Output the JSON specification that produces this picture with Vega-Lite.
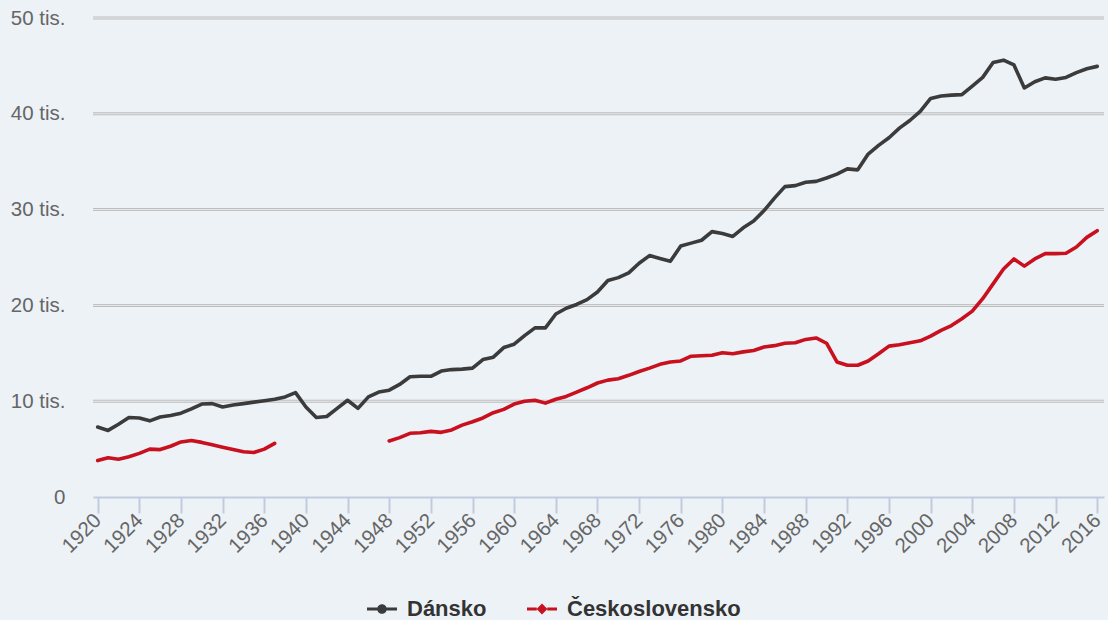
{
  "$schema": "https://vega.github.io/schema/vega-lite/v6.json",
  "width": 1011,
  "height": 479,
  "autosize": {"type": "none"},
  "padding": {"left": 93, "top": 18, "right": 4, "bottom": 123},
  "background": "#edf2f7",
  "config": {
    "view": {"stroke": null},
    "font": "Liberation Sans"
  },
  "datasets": {
    "mrizka": [{"g": 10000}, {"g": 20000}, {"g": 30000}, {"g": 40000}, {"g": 50000}],
    "hdp": [
      {"rok":1920,"zeme":"Dánsko","hodnota":7300},{"rok":1921,"zeme":"Dánsko","hodnota":6950},{"rok":1922,"zeme":"Dánsko","hodnota":7600},{"rok":1923,"zeme":"Dánsko","hodnota":8300},{"rok":1924,"zeme":"Dánsko","hodnota":8250},{"rok":1925,"zeme":"Dánsko","hodnota":7950},{"rok":1926,"zeme":"Dánsko","hodnota":8350},{"rok":1927,"zeme":"Dánsko","hodnota":8500},{"rok":1928,"zeme":"Dánsko","hodnota":8750},{"rok":1929,"zeme":"Dánsko","hodnota":9200},
      {"rok":1930,"zeme":"Dánsko","hodnota":9700},{"rok":1931,"zeme":"Dánsko","hodnota":9750},{"rok":1932,"zeme":"Dánsko","hodnota":9400},{"rok":1933,"zeme":"Dánsko","hodnota":9600},{"rok":1934,"zeme":"Dánsko","hodnota":9750},{"rok":1935,"zeme":"Dánsko","hodnota":9900},{"rok":1936,"zeme":"Dánsko","hodnota":10050},{"rok":1937,"zeme":"Dánsko","hodnota":10200},{"rok":1938,"zeme":"Dánsko","hodnota":10450},{"rok":1939,"zeme":"Dánsko","hodnota":10900},
      {"rok":1940,"zeme":"Dánsko","hodnota":9400},{"rok":1941,"zeme":"Dánsko","hodnota":8300},{"rok":1942,"zeme":"Dánsko","hodnota":8400},{"rok":1943,"zeme":"Dánsko","hodnota":9250},{"rok":1944,"zeme":"Dánsko","hodnota":10100},{"rok":1945,"zeme":"Dánsko","hodnota":9250},{"rok":1946,"zeme":"Dánsko","hodnota":10450},{"rok":1947,"zeme":"Dánsko","hodnota":10950},{"rok":1948,"zeme":"Dánsko","hodnota":11150},{"rok":1949,"zeme":"Dánsko","hodnota":11750},
      {"rok":1950,"zeme":"Dánsko","hodnota":12550},{"rok":1951,"zeme":"Dánsko","hodnota":12600},{"rok":1952,"zeme":"Dánsko","hodnota":12600},{"rok":1953,"zeme":"Dánsko","hodnota":13150},{"rok":1954,"zeme":"Dánsko","hodnota":13300},{"rok":1955,"zeme":"Dánsko","hodnota":13350},{"rok":1956,"zeme":"Dánsko","hodnota":13450},{"rok":1957,"zeme":"Dánsko","hodnota":14350},{"rok":1958,"zeme":"Dánsko","hodnota":14600},{"rok":1959,"zeme":"Dánsko","hodnota":15600},
      {"rok":1960,"zeme":"Dánsko","hodnota":15950},{"rok":1961,"zeme":"Dánsko","hodnota":16850},{"rok":1962,"zeme":"Dánsko","hodnota":17650},{"rok":1963,"zeme":"Dánsko","hodnota":17650},{"rok":1964,"zeme":"Dánsko","hodnota":19100},{"rok":1965,"zeme":"Dánsko","hodnota":19700},{"rok":1966,"zeme":"Dánsko","hodnota":20100},{"rok":1967,"zeme":"Dánsko","hodnota":20600},{"rok":1968,"zeme":"Dánsko","hodnota":21400},{"rok":1969,"zeme":"Dánsko","hodnota":22600},
      {"rok":1970,"zeme":"Dánsko","hodnota":22900},{"rok":1971,"zeme":"Dánsko","hodnota":23400},{"rok":1972,"zeme":"Dánsko","hodnota":24400},{"rok":1973,"zeme":"Dánsko","hodnota":25200},{"rok":1974,"zeme":"Dánsko","hodnota":24900},{"rok":1975,"zeme":"Dánsko","hodnota":24600},{"rok":1976,"zeme":"Dánsko","hodnota":26200},{"rok":1977,"zeme":"Dánsko","hodnota":26500},{"rok":1978,"zeme":"Dánsko","hodnota":26800},{"rok":1979,"zeme":"Dánsko","hodnota":27700},
      {"rok":1980,"zeme":"Dánsko","hodnota":27500},{"rok":1981,"zeme":"Dánsko","hodnota":27200},{"rok":1982,"zeme":"Dánsko","hodnota":28100},{"rok":1983,"zeme":"Dánsko","hodnota":28800},{"rok":1984,"zeme":"Dánsko","hodnota":29900},{"rok":1985,"zeme":"Dánsko","hodnota":31200},{"rok":1986,"zeme":"Dánsko","hodnota":32400},{"rok":1987,"zeme":"Dánsko","hodnota":32500},{"rok":1988,"zeme":"Dánsko","hodnota":32850},{"rok":1989,"zeme":"Dánsko","hodnota":32950},
      {"rok":1990,"zeme":"Dánsko","hodnota":33300},{"rok":1991,"zeme":"Dánsko","hodnota":33700},{"rok":1992,"zeme":"Dánsko","hodnota":34250},{"rok":1993,"zeme":"Dánsko","hodnota":34150},{"rok":1994,"zeme":"Dánsko","hodnota":35800},{"rok":1995,"zeme":"Dánsko","hodnota":36700},{"rok":1996,"zeme":"Dánsko","hodnota":37500},{"rok":1997,"zeme":"Dánsko","hodnota":38500},{"rok":1998,"zeme":"Dánsko","hodnota":39300},{"rok":1999,"zeme":"Dánsko","hodnota":40250},
      {"rok":2000,"zeme":"Dánsko","hodnota":41600},{"rok":2001,"zeme":"Dánsko","hodnota":41850},{"rok":2002,"zeme":"Dánsko","hodnota":41950},{"rok":2003,"zeme":"Dánsko","hodnota":42000},{"rok":2004,"zeme":"Dánsko","hodnota":42900},{"rok":2005,"zeme":"Dánsko","hodnota":43800},{"rok":2006,"zeme":"Dánsko","hodnota":45350},{"rok":2007,"zeme":"Dánsko","hodnota":45600},{"rok":2008,"zeme":"Dánsko","hodnota":45100},{"rok":2009,"zeme":"Dánsko","hodnota":42700},
      {"rok":2010,"zeme":"Dánsko","hodnota":43350},{"rok":2011,"zeme":"Dánsko","hodnota":43750},{"rok":2012,"zeme":"Dánsko","hodnota":43600},{"rok":2013,"zeme":"Dánsko","hodnota":43800},{"rok":2014,"zeme":"Dánsko","hodnota":44300},{"rok":2015,"zeme":"Dánsko","hodnota":44700},{"rok":2016,"zeme":"Dánsko","hodnota":44950},
      {"rok":1920,"zeme":"Československo","hodnota":3800},{"rok":1921,"zeme":"Československo","hodnota":4100},{"rok":1922,"zeme":"Československo","hodnota":3950},{"rok":1923,"zeme":"Československo","hodnota":4200},{"rok":1924,"zeme":"Československo","hodnota":4550},{"rok":1925,"zeme":"Československo","hodnota":5000},{"rok":1926,"zeme":"Československo","hodnota":4950},{"rok":1927,"zeme":"Československo","hodnota":5300},{"rok":1928,"zeme":"Československo","hodnota":5750},{"rok":1929,"zeme":"Československo","hodnota":5900},
      {"rok":1930,"zeme":"Československo","hodnota":5700},{"rok":1931,"zeme":"Československo","hodnota":5450},{"rok":1932,"zeme":"Československo","hodnota":5200},{"rok":1933,"zeme":"Československo","hodnota":4950},{"rok":1934,"zeme":"Československo","hodnota":4720},{"rok":1935,"zeme":"Československo","hodnota":4650},{"rok":1936,"zeme":"Československo","hodnota":5000},{"rok":1937,"zeme":"Československo","hodnota":5600},
      {"rok":1938,"zeme":"Československo","hodnota":null},{"rok":1939,"zeme":"Československo","hodnota":null},{"rok":1940,"zeme":"Československo","hodnota":null},{"rok":1941,"zeme":"Československo","hodnota":null},{"rok":1942,"zeme":"Československo","hodnota":null},{"rok":1943,"zeme":"Československo","hodnota":null},{"rok":1944,"zeme":"Československo","hodnota":null},{"rok":1945,"zeme":"Československo","hodnota":null},{"rok":1946,"zeme":"Československo","hodnota":null},{"rok":1947,"zeme":"Československo","hodnota":null},
      {"rok":1948,"zeme":"Československo","hodnota":5850},{"rok":1949,"zeme":"Československo","hodnota":6200},
      {"rok":1950,"zeme":"Československo","hodnota":6650},{"rok":1951,"zeme":"Československo","hodnota":6700},{"rok":1952,"zeme":"Československo","hodnota":6850},{"rok":1953,"zeme":"Československo","hodnota":6750},{"rok":1954,"zeme":"Československo","hodnota":7000},{"rok":1955,"zeme":"Československo","hodnota":7500},{"rok":1956,"zeme":"Československo","hodnota":7850},{"rok":1957,"zeme":"Československo","hodnota":8250},{"rok":1958,"zeme":"Československo","hodnota":8800},{"rok":1959,"zeme":"Československo","hodnota":9150},
      {"rok":1960,"zeme":"Československo","hodnota":9700},{"rok":1961,"zeme":"Československo","hodnota":10000},{"rok":1962,"zeme":"Československo","hodnota":10100},{"rok":1963,"zeme":"Československo","hodnota":9800},{"rok":1964,"zeme":"Československo","hodnota":10200},{"rok":1965,"zeme":"Československo","hodnota":10500},{"rok":1966,"zeme":"Československo","hodnota":10950},{"rok":1967,"zeme":"Československo","hodnota":11400},{"rok":1968,"zeme":"Československo","hodnota":11900},{"rok":1969,"zeme":"Československo","hodnota":12200},
      {"rok":1970,"zeme":"Československo","hodnota":12350},{"rok":1971,"zeme":"Československo","hodnota":12700},{"rok":1972,"zeme":"Československo","hodnota":13100},{"rok":1973,"zeme":"Československo","hodnota":13450},{"rok":1974,"zeme":"Československo","hodnota":13850},{"rok":1975,"zeme":"Československo","hodnota":14100},{"rok":1976,"zeme":"Československo","hodnota":14200},{"rok":1977,"zeme":"Československo","hodnota":14700},{"rok":1978,"zeme":"Československo","hodnota":14750},{"rok":1979,"zeme":"Československo","hodnota":14800},
      {"rok":1980,"zeme":"Československo","hodnota":15050},{"rok":1981,"zeme":"Československo","hodnota":14950},{"rok":1982,"zeme":"Československo","hodnota":15150},{"rok":1983,"zeme":"Československo","hodnota":15300},{"rok":1984,"zeme":"Československo","hodnota":15650},{"rok":1985,"zeme":"Československo","hodnota":15800},{"rok":1986,"zeme":"Československo","hodnota":16050},{"rok":1987,"zeme":"Československo","hodnota":16100},{"rok":1988,"zeme":"Československo","hodnota":16450},{"rok":1989,"zeme":"Československo","hodnota":16600},
      {"rok":1990,"zeme":"Československo","hodnota":16050},{"rok":1991,"zeme":"Československo","hodnota":14100},{"rok":1992,"zeme":"Československo","hodnota":13750},{"rok":1993,"zeme":"Československo","hodnota":13750},{"rok":1994,"zeme":"Československo","hodnota":14200},{"rok":1995,"zeme":"Československo","hodnota":14950},{"rok":1996,"zeme":"Československo","hodnota":15750},{"rok":1997,"zeme":"Československo","hodnota":15900},{"rok":1998,"zeme":"Československo","hodnota":16100},{"rok":1999,"zeme":"Československo","hodnota":16300},
      {"rok":2000,"zeme":"Československo","hodnota":16800},{"rok":2001,"zeme":"Československo","hodnota":17400},{"rok":2002,"zeme":"Československo","hodnota":17900},{"rok":2003,"zeme":"Československo","hodnota":18600},{"rok":2004,"zeme":"Československo","hodnota":19400},{"rok":2005,"zeme":"Československo","hodnota":20700},{"rok":2006,"zeme":"Československo","hodnota":22250},{"rok":2007,"zeme":"Československo","hodnota":23800},{"rok":2008,"zeme":"Československo","hodnota":24850},{"rok":2009,"zeme":"Československo","hodnota":24100},
      {"rok":2010,"zeme":"Československo","hodnota":24850},{"rok":2011,"zeme":"Československo","hodnota":25400},{"rok":2012,"zeme":"Československo","hodnota":25400},{"rok":2013,"zeme":"Československo","hodnota":25450},{"rok":2014,"zeme":"Československo","hodnota":26100},{"rok":2015,"zeme":"Československo","hodnota":27100},{"rok":2016,"zeme":"Československo","hodnota":27800}
    ]
  },
  "layer": [
    {
      "data": {"name": "mrizka"},
      "mark": {"type": "rule", "stroke": "#bdbdbd", "strokeWidth": 3},
      "encoding": {
        "y": {"field": "g", "type": "quantitative", "scale": {"domain": [0, 50000], "nice": false},
          "axis": {
            "values": [0, 10000, 20000, 30000, 40000, 50000],
            "labelExpr": "datum.value === 0 ? '0' : (datum.value / 1000) + ' tis.'",
            "domain": false, "ticks": false, "grid": false,
            "labelFontSize": 20.5, "labelColor": "#666666", "labelPadding": 28,
            "labelFont": "Liberation Sans", "title": null
          }
        }
      }
    },
    {
      "data": {"name": "mrizka"},
      "mark": {"type": "rule", "stroke": "#e9ecef", "strokeWidth": 1},
      "encoding": {
        "y": {"field": "g", "type": "quantitative"}
      }
    },
    {
      "data": {"name": "hdp"},
      "mark": {"type": "line", "strokeWidth": 3.6, "strokeJoin": "round", "strokeCap": "round"},
      "encoding": {
        "x": {
          "field": "rok", "type": "quantitative",
          "scale": {"domain": [1919.55, 2016.65], "nice": false, "zero": false},
          "axis": {
            "values": [1920,1924,1928,1932,1936,1940,1944,1948,1952,1956,1960,1964,1968,1972,1976,1980,1984,1988,1992,1996,2000,2004,2008,2012,2016],
            "format": "d",
            "labelAngle": -45, "labelAlign": "right", "labelBaseline": "middle",
            "labelFontSize": 20.5, "labelColor": "#666666", "labelFont": "Liberation Sans",
            "labelPadding": 4,
            "domainColor": "#c2cbdd", "domainWidth": 2,
            "tickColor": "#c2cbdd", "tickWidth": 2, "tickSize": 16,
            "grid": false, "title": null, "labelOverlap": false
          }
        },
        "y": {"field": "hodnota", "type": "quantitative"},
        "color": {
          "field": "zeme", "type": "nominal",
          "scale": {"domain": ["Dánsko", "Československo"], "range": ["#3b3b3b", "#c8101e"]},
          "legend": {
            "title": null,
            "orient": "none",
            "direction": "horizontal",
            "legendX": 274,
            "legendY": 576,
            "padding": 0,
            "symbolSize": 900,
            "symbolStrokeWidth": 0,
            "labelFont": "Liberation Sans",
            "labelFontSize": 22,
            "labelFontWeight": "bold",
            "labelColor": "#333333",
            "labelOffset": 10,
            "labelLimit": 400,
            "columnPadding": 40,
            "encode": {
              "symbols": {
                "update": {
                  "shape": {"signal": "datum.value === 'Dánsko' ? 'M-1,-0.1H-0.3V0.1H-1Z M0.3,-0.1H1V0.1H0.3Z M0.32,0A0.32,0.32,0,1,1,-0.32,0A0.32,0.32,0,1,1,0.32,0Z' : 'M-1,-0.1H-0.35V0.1H-1Z M0.35,-0.1H1V0.1H0.35Z M0,-0.36L0.36,0L0,0.36L-0.36,0Z'"},
                  "fill": {"scale": "color", "field": "value"},
                  "strokeWidth": {"value": 0},
                  "opacity": {"value": 1}
                }
              }
            }
          }
        }
      }
    }
  ]
}
